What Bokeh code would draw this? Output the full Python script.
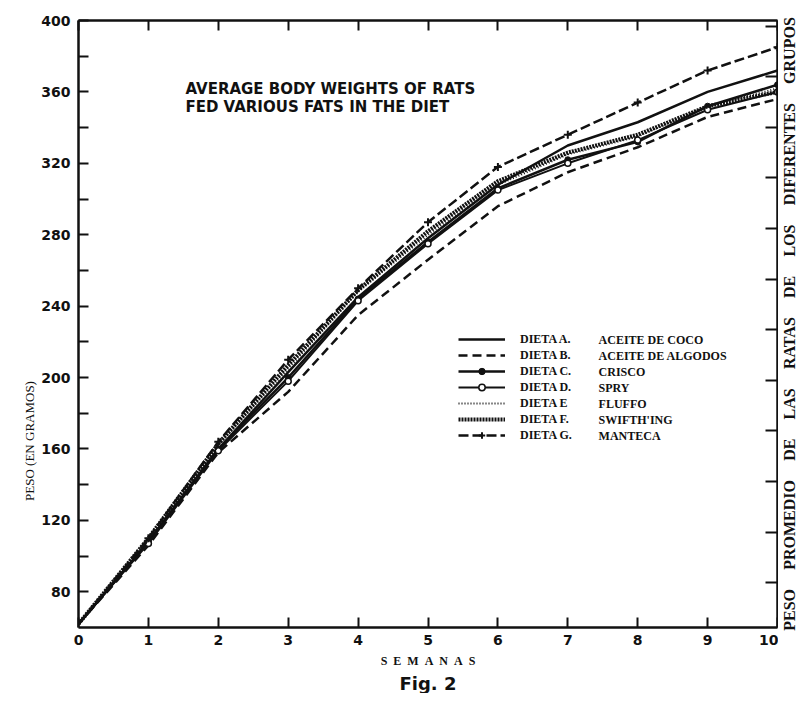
from bokeh.plotting import figure
from bokeh.layouts import row
from bokeh.models import (LinearAxis, FixedTicker, Range1d, Legend, LegendItem,
                          Label, Title, CustomLabelingPolicy)
from bokeh.embed import file_html
from bokeh.resources import INLINE

# ---- data ----
weeks = [0, 1, 2, 3, 4, 5, 6, 7, 8, 9, 10]
dieta_a = [62, 108, 160, 203, 245, 278, 308, 330, 343, 360, 372]   # aceite de coco
dieta_b = [62, 106, 158, 192, 235, 266, 296, 315, 329, 346, 356]   # aceite de algodon
dieta_c = [62, 108, 160, 200, 244, 276, 306, 322, 332, 352, 364]   # crisco
dieta_d = [62, 107, 159, 198, 243, 275, 305, 320, 333, 350, 360]   # spry
dieta_e = [62, 109, 162, 205, 248, 280, 308, 325, 335, 352, 362]   # fluffo
dieta_f = [62, 110, 163, 207, 249, 282, 310, 326, 336, 352, 360]   # swiftning
dieta_g = [62, 110, 164, 210, 250, 287, 318, 336, 354, 372, 385]   # manteca

x_ticks = [0, 1, 2, 3, 4, 5, 6, 7, 8, 9, 10]
y_ticks = [80, 120, 160, 200, 240, 280, 320, 360, 400]
y_minor = [100, 140, 180, 220, 260, 300, 340, 380]
oz_ticks = [3, 4, 5, 6, 7, 8, 9, 10, 11, 12, 13, 14]   # right-hand scale (ounces)
GRAMS_PER_OZ = 28.35

diet_codes = ["DIETA A.", "DIETA B.", "DIETA C.", "DIETA D.", "DIETA E",
              "DIETA F.", "DIETA G."]
diet_names = ["ACEITE DE COCO", "ACEITE DE ALGODOS", "CRISCO", "SPRY", "FLUFFO",
              "SWIFTH'ING", "MANTECA"]
right_title_words = ["PESO", "PROMEDIO", "DE", "LAS", "RATAS", "DE", "LOS",
                     "DIFERENTES", "GRUPOS"]

INK = "#111111"
TICK_FONT = "DejaVu Sans"
TOP, BOTTOM = 20, 65

p = figure(width=778, height=693, output_backend="svg", toolbar_location=None,
           x_range=Range1d(0, 10), y_range=Range1d(60, 400),
           x_axis_type=None, y_axis_type=None,
           min_border_left=78, min_border_right=1, min_border_top=TOP,
           min_border_bottom=BOTTOM)
p.extra_y_ranges = {"oz": Range1d(60 / GRAMS_PER_OZ, 400 / GRAMS_PER_OZ)}
p.outline_line_color = None
p.background_fill_color = "white"
p.border_fill_color = "white"
p.xgrid.visible = False
p.ygrid.visible = False

NO_LABELS = "for (const i of indices) { if (i < 0) { yield i } }"


def style_axis(ax):
    ax.axis_line_color = INK
    ax.axis_line_width = 2.5
    ax.major_tick_line_color = INK
    ax.minor_tick_line_color = INK
    ax.major_tick_line_width = 2
    ax.minor_tick_line_width = 2
    ax.major_tick_in = 10
    ax.major_tick_out = 0
    ax.minor_tick_in = 10
    ax.minor_tick_out = 0
    ax.major_label_text_font = TICK_FONT
    ax.major_label_text_font_style = "bold"
    ax.major_label_text_font_size = "14px"
    ax.major_label_text_color = INK


def hide_labels(ax, ticks):
    ax.major_label_overrides = {t: "" for t in ticks}
    ax.major_label_policy = CustomLabelingPolicy(code=NO_LABELS)
    ax.major_label_standoff = 0


# bottom axis
xb = LinearAxis(ticker=FixedTicker(ticks=x_ticks))
style_axis(xb)
xb.minor_tick_in = 0
xb.major_label_standoff = 7
xb.axis_label = "S\u2002E\u2002M\u2002A\u2002N\u2002A\u2002S"
xb.axis_label_text_font = "Liberation Serif"
xb.axis_label_text_font_style = "bold"
xb.axis_label_text_font_size = "12px"
xb.axis_label_standoff = 6
xb.axis_label_text_color = INK
p.add_layout(xb, "below")

# top axis (ticks only)
xt = LinearAxis(ticker=FixedTicker(ticks=x_ticks))
style_axis(xt)
xt.minor_tick_in = 0
hide_labels(xt, x_ticks)
p.add_layout(xt, "above")

# left axis
yl = LinearAxis(ticker=FixedTicker(ticks=y_ticks, minor_ticks=y_minor))
style_axis(yl)
yl.major_label_standoff = 8
# label sits low on the axis in the original: pad its upper end
yl.axis_label = "PESO (EN GRAMOS)" + "\u00a0" * 72
yl.axis_label_text_font = "Liberation Serif"
yl.axis_label_text_font_style = "normal"
yl.axis_label_text_font_size = "13px"
yl.axis_label_standoff = 1
yl.axis_label_text_color = INK
p.add_layout(yl, "left")

# right axis (ounce ticks only)
yr = LinearAxis(y_range_name="oz", ticker=FixedTicker(ticks=oz_ticks))
style_axis(yr)
yr.minor_tick_in = 0
yr.major_tick_in = 12
hide_labels(yr, oz_ticks)
p.add_layout(yr, "right")

# ---- series ----
ra = p.line(weeks, dieta_a, line_color=INK, line_width=2.5)
rb = p.line(weeks, dieta_b, line_color=INK, line_width=2.5, line_dash="9 5")
rc = p.line(weeks, dieta_c, line_color=INK, line_width=2.5)
rc2 = p.scatter(weeks[1:], dieta_c[1:], marker="circle", size=6, fill_color=INK,
                line_color=INK)
rd = p.line(weeks, dieta_d, line_color=INK, line_width=2)
rd2 = p.scatter(weeks[1:], dieta_d[1:], marker="circle", size=6, fill_color="white",
                line_color=INK, line_width=1.5)
re = p.line(weeks, dieta_e, line_color=INK, line_width=2, line_dash="1 2")
rf = p.line(weeks, dieta_f, line_color=INK, line_width=4, line_dash="2 1")
rg = p.line(weeks, dieta_g, line_color=INK, line_width=2.5, line_dash="10 4")
rg2 = p.scatter(weeks[1:], dieta_g[1:], marker="cross", size=8, line_color=INK,
                line_width=2)

legend = Legend(items=[
    LegendItem(label=diet_codes[0], renderers=[ra]),
    LegendItem(label=diet_codes[1], renderers=[rb]),
    LegendItem(label=diet_codes[2], renderers=[rc, rc2]),
    LegendItem(label=diet_codes[3], renderers=[rd, rd2]),
    LegendItem(label=diet_codes[4], renderers=[re]),
    LegendItem(label=diet_codes[5], renderers=[rf]),
    LegendItem(label=diet_codes[6], renderers=[rg, rg2]),
], location=(380, 184), orientation="vertical",
    border_line_alpha=0, background_fill_alpha=0,
    label_text_font="Liberation Serif", label_text_font_style="bold",
    label_text_font_size="12px", label_text_color=INK,
    glyph_width=47, glyph_height=16, label_height=16, label_standoff=15,
    spacing=0, padding=0, margin=0)
p.add_layout(legend)

# second column of the legend (diet names), aligned with the legend rows
name_x = 7.44
row_y = [221.1, 212.1, 203.2, 194.2, 185.3, 176.3, 167.4]
for name, yy in zip(diet_names, row_y):
    p.add_layout(Label(x=name_x, y=yy, text=name, text_font="Liberation Serif",
                       text_font_style="bold", text_font_size="12px",
                       text_color=INK, text_baseline="middle"))

# chart heading inside the plot
p.add_layout(Label(x=1.53, y=361.9, text="AVERAGE BODY WEIGHTS OF RATS",
                   text_font=TICK_FONT, text_font_style="bold",
                   text_font_size="15px", text_color=INK,
                   text_baseline="alphabetic"))
p.add_layout(Label(x=1.53, y=351.7, text="FED VARIOUS FATS IN THE DIET",
                   text_font=TICK_FONT, text_font_style="bold",
                   text_font_size="15px", text_color=INK,
                   text_baseline="alphabetic"))

# figure caption
p.add_layout(Title(text="Fig. 2", align="center", text_font=TICK_FONT,
                   text_font_style="bold", text_font_size="18px",
                   text_color=INK, standoff=0), "below")

# ---- narrow strip at the right carrying the vertical right-hand title ----
q = figure(width=19, height=693, output_backend="svg", toolbar_location=None,
           x_range=Range1d(0, 1), y_range=Range1d(60, 400),
           x_axis_type=None, y_axis_type=None,
           min_border_left=19, min_border_right=0, min_border_top=TOP,
           min_border_bottom=BOTTOM)
q.outline_line_color = None
q.xgrid.visible = False
q.ygrid.visible = False
q.background_fill_color = "white"
q.border_fill_color = "white"
qa = LinearAxis(ticker=FixedTicker(ticks=[]))
qa.axis_line_color = None
qa.major_tick_line_color = None
qa.minor_tick_line_color = None
qa.major_tick_in = 0
qa.major_tick_out = 0
qa.minor_tick_in = 0
qa.minor_tick_out = 0
hide_labels(qa, [])
qa.axis_label = "\u2003\u2009".join(right_title_words)
qa.axis_label_text_font = "Liberation Serif"
qa.axis_label_text_font_style = "bold"
qa.axis_label_text_font_size = "16px"
qa.axis_label_standoff = 0
qa.axis_label_text_color = INK
q.add_layout(qa, "left")

layout = row(p, q, spacing=0)
open("out.html", "w").write(file_html(layout, INLINE))
